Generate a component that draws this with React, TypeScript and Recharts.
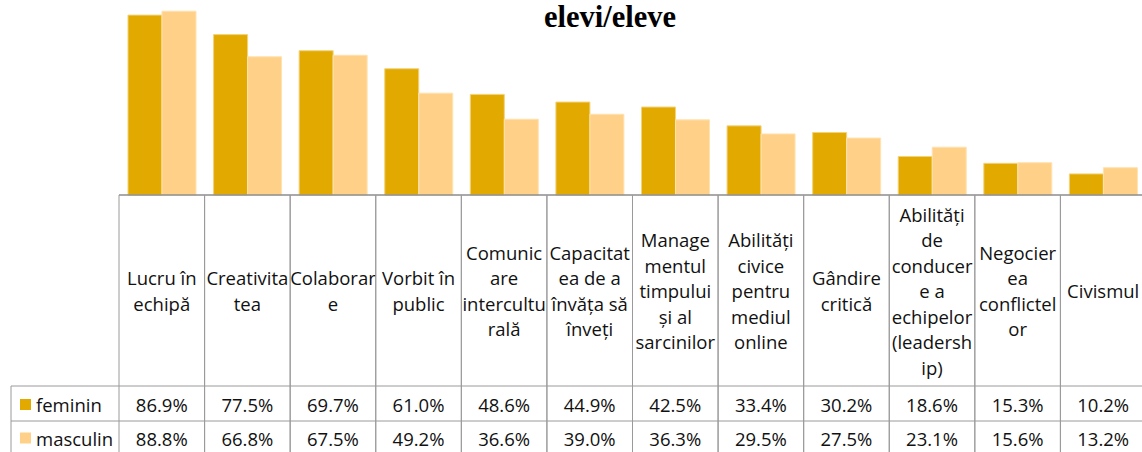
import React from "react";
import { BarChart, Bar, XAxis, YAxis } from "recharts";

// skills, with the line breaks used in the table header
const categories = [
  "Lucru în\nechipă",
  "Creativita\ntea",
  "Colaborar\ne",
  "Vorbit în\npublic",
  "Comunic\nare\nintercultu\nrală",
  "Capacitat\nea de a\nînvăța să\nînveți",
  "Manage\nmentul\ntimpului\nși al\nsarcinilor",
  "Abilități\ncivice\npentru\nmediul\nonline",
  "Gândire\ncritică",
  "Abilități\nde\nconducer\ne a\nechipelor\n(leadersh\nip)",
  "Negocier\nea\nconflictel\nor",
  "Civismul",
];
const feminin = [86.9, 77.5, 69.7, 61.0, 48.6, 44.9, 42.5, 33.4, 30.2, 18.6, 15.3, 10.2];
const masculin = [88.8, 66.8, 67.5, 49.2, 36.6, 39.0, 36.3, 29.5, 27.5, 23.1, 15.6, 13.2];
const seriesNames = ["feminin", "masculin"];
const seriesColors = ["#E2AA00", "#FFD188"];

const data = categories.map((cat, i) => ({ cat, feminin: feminin[i], masculin: masculin[i] }));

const FONT = "'Open Sans', sans-serif";
const LINE = "#9a9a9a";
const SHIFT = 12; // chart is drawn 12px higher than the page (top of 0-100 scale is cropped)
const LEFT = 119;
const CHART_W = 1146;
const COL_W = (CHART_W - LEFT) / categories.length;
const BASE = 195 + SHIFT; // baseline in svg coords
const ROW1 = 386 + SHIFT;
const ROW2 = 421 + SHIFT;
const BOTTOM = 470;

const fmt = (v: number) => `${v.toFixed(1)}%`;

const TableTick = (props: any) => {
  const { x, payload, index } = props;
  const lines: string[] = String(payload.value).split("\n");
  const lh = 25.5;
  const mid = (BASE + ROW1) / 2;
  const first = mid - ((lines.length - 1) * lh) / 2;
  const l = x - COL_W / 2;
  const r = x + COL_W / 2;
  const vals = [feminin[index], masculin[index]];
  return (
    <g>
      <line x1={l} x2={l} y1={BASE} y2={BOTTOM} stroke={LINE} />
      <line x1={r} x2={r} y1={BASE} y2={BOTTOM} stroke={LINE} />
      <line x1={l} x2={r} y1={ROW1} y2={ROW1} stroke={LINE} />
      <line x1={l} x2={r} y1={ROW2} y2={ROW2} stroke={LINE} />
      {lines.map((t, k) => (
        <text key={k} x={x} y={first + k * lh} textAnchor="middle" dominantBaseline="central"
          fontFamily={FONT} fontSize={18.5} fill="#111">{t}</text>
      ))}
      {vals.map((v, k) => (
        <text key={k} x={x} y={(k === 0 ? (ROW1 + ROW2) / 2 : ROW2 + 16) + 1} textAnchor="middle"
          dominantBaseline="central" fontFamily={FONT} fontSize={18.5} fill="#111">{fmt(v)}</text>
      ))}
      {index === 0 && (
        <g>
          <line x1={11} x2={11} y1={ROW1} y2={BOTTOM} stroke={LINE} />
          <line x1={11} x2={LEFT} y1={ROW1} y2={ROW1} stroke={LINE} />
          <line x1={11} x2={LEFT} y1={ROW2} y2={ROW2} stroke={LINE} />
          {seriesNames.map((n, k) => {
            const cy = (k === 0 ? (ROW1 + ROW2) / 2 : ROW2 + 16) + 1;
            return (
              <g key={n}>
                <rect x={20} y={cy - 5.5} width={11} height={11} fill={seriesColors[k]} />
                <text x={36} y={cy} dominantBaseline="central" fontFamily={FONT} fontSize={18.5} fill="#111">{n}</text>
              </g>
            );
          })}
        </g>
      )}
    </g>
  );
};

export default function App() {
  return (
    <div style={{ position: "absolute", left: 0, top: 0, width: 1142, height: 452, overflow: "hidden", background: "#fff" }}>
      <div style={{ position: "absolute", left: 0, top: -SHIFT }}>
        <BarChart width={CHART_W} height={480} data={data}
          margin={{ top: 0, right: 0, left: LEFT, bottom: 0 }}
          barCategoryGap="10.5%" barGap={0}>
          <YAxis hide domain={[0, 100]} />
          <XAxis dataKey="cat" height={273} interval={0} tickLine={false}
            axisLine={{ stroke: "#8c8c8c", strokeWidth: 1.5 }} tick={TableTick} />
          <Bar dataKey="feminin" fill={seriesColors[0]} stroke="#f3d27a" strokeWidth={1} isAnimationActive={false} />
          <Bar dataKey="masculin" fill={seriesColors[1]} stroke="#ffe2b0" strokeWidth={1} isAnimationActive={false} />
        </BarChart>
      </div>
      <svg width={1142} height={45} style={{ position: "absolute", left: 0, top: 0 }}>
        <text x={610} y={27} textAnchor="middle" fontFamily="'Liberation Serif', 'Times New Roman', serif"
          fontWeight="bold" fontSize={30.5} fill="#000">elevi/eleve</text>
      </svg>
    </div>
  );
}
